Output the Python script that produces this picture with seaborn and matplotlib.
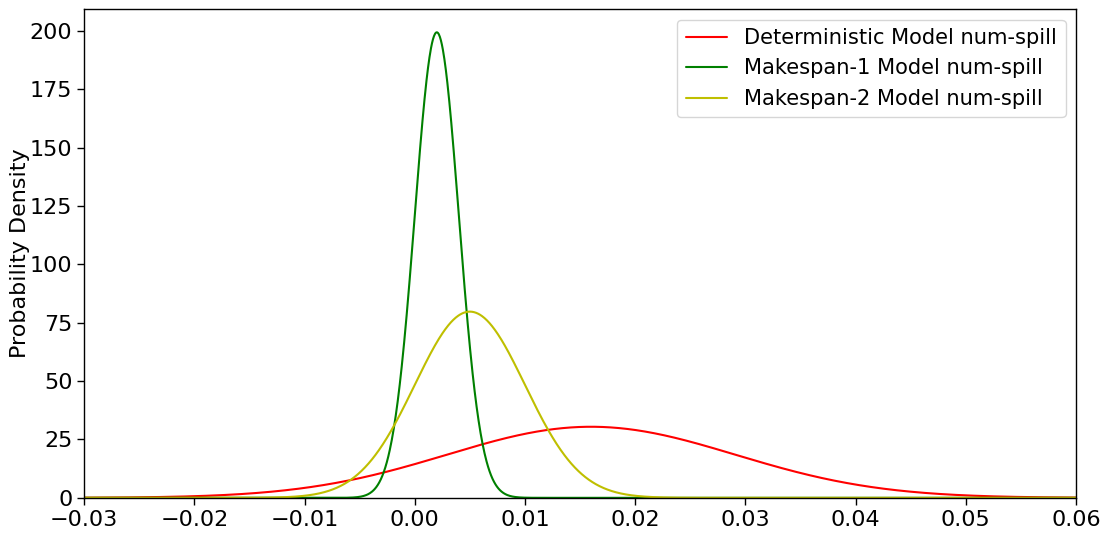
import numpy as np
import pandas as pd
import matplotlib
matplotlib.use("Agg")
import matplotlib.pyplot as plt
import seaborn as sns

# Normal distribution parameters
labels = ["Deterministic Model num-spill", "Makespan-1 Model num-spill", "Makespan-2 Model num-spill"]
means = [0.016, 0.002, 0.005]
stds = [0.0131, 0.002, 0.005]
colors = ["r", "g", "y"]
x_range = [-0.03, 0.06]

sns.set_style("white")
plt.rcParams["font.family"] = ["DejaVu Sans"]
plt.rcParams["text.color"] = "black"
plt.rcParams["axes.labelcolor"] = "black"
plt.rcParams["xtick.color"] = "black"
plt.rcParams["ytick.color"] = "black"

xs = np.linspace(x_range[0], x_range[1], 2000)
frames = []
for lab, m, s in zip(labels, means, stds):
    pdf = np.exp(-0.5 * ((xs - m) / s) ** 2) / (s * np.sqrt(2 * np.pi))
    frames.append(pd.DataFrame({"x": xs, "density": pdf, "series": lab}))
df = pd.concat(frames, ignore_index=True)

fig, ax = plt.subplots(figsize=(11.07, 5.33), dpi=100)
sns.lineplot(data=df, x="x", y="density", hue="series", palette=dict(zip(labels, colors)),
             ax=ax, linewidth=1.5, sort=False)
ax.set_xlim(x_range)
ymax = df["density"].max()
ax.set_ylim(0, ymax * 1.05)
ax.set_xlabel("")
ax.set_ylabel("Probability Density", fontsize=16, labelpad=0)
ax.tick_params(axis="both", labelsize=16, length=5, width=1, direction="out", bottom=True, left=True,
               colors="black")
for sp in ax.spines.values():
    sp.set_color("black")
    sp.set_linewidth(1)
leg = ax.legend(loc="upper right", fontsize=15.1, title=None)
for t in leg.get_texts():
    t.set_color("black")
fig.subplots_adjust(left=0.076, right=0.972, top=0.983, bottom=0.066)
fig.savefig("out.png", dpi=100)
